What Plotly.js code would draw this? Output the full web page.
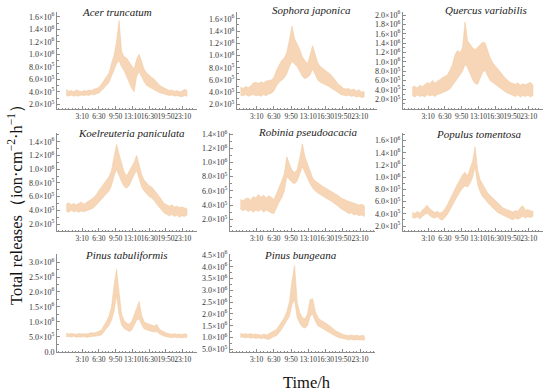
<!DOCTYPE html>
<html>
<head>
<meta charset="utf-8">
<script src="https://cdn.plot.ly/plotly-3.0.1.min.js"></script>
<style>html,body{margin:0;padding:0;background:#fff}#chart{width:550px;height:392px}</style>
</head>
<body>
<div id="chart"></div>
<script>
// time of day, minutes after midnight
const timeMin = [0,30,60,90,120,150,180,210,240,270,300,330,360,390,420,450,480,510,540,570,600,630,660,690,720,750,780,810,840,870,900,930,960,990,1020,1050,1080,1110,1140,1170,1200,1230,1260,1290,1320,1350,1380,1410,1440];
const xTickVals = [190,390,590,790,990,1190,1390];
const xTickText = ['3:10','6:30','9:50','13:10','16:30','19:50','23:10'];

const speciesNames = ['Acer truncatum','Sophora japonica','Quercus variabilis','Koelreuteria paniculata','Robinia pseudoacacia','Populus tomentosa','Pinus tabuliformis','Pinus bungeana'];

// values in units of 10^5 ion·cm^-2·h^-1 : lower and upper edge of band
const acerLow  = [3.4,3.3,3.5,3.3,3.4,3.3,3.5,3.4,3.5,3.4,3.6,3.5,3.7,3.8,4.2,4.6,5.0,5.5,6.5,7.6,8.5,9.0,8.0,7.4,6.5,5.5,4.6,4.0,6.5,7.2,6.5,5.6,5.0,4.8,4.5,4.3,4.1,3.9,3.7,3.6,3.5,3.4,3.5,3.3,3.4,3.3,3.2,3.4,3.3];
const acerHigh = [4.4,4.1,4.2,4.0,4.3,4.1,4.0,4.2,4.1,4.3,4.2,4.4,4.5,4.7,5.2,5.8,6.3,7.0,8.5,9.8,12.0,15.4,10.5,9.6,9.4,8.8,8.0,7.6,9.2,10.0,8.8,7.6,7.0,6.6,6.3,6.0,5.5,5.1,4.8,4.6,4.4,4.2,4.3,4.1,4.2,4.0,4.1,4.4,4.2];

const sophoraLow  = [3.5,3.4,3.6,3.3,3.5,3.6,3.4,3.5,3.3,3.6,3.4,3.7,3.8,4.2,5.0,5.6,6.0,6.3,7.0,8.2,9.0,8.6,8.2,7.4,6.6,6.2,6.4,6.8,7.8,7.0,6.0,5.6,5.4,5.2,5.0,4.8,4.5,4.2,3.9,3.6,3.5,3.4,3.5,3.3,3.4,3.2,3.3,3.1,3.2];
const sophoraHigh = [4.8,4.6,4.9,4.7,5.0,5.5,5.6,5.4,5.7,5.5,5.8,5.9,6.0,6.4,7.6,8.4,9.2,9.6,10.5,12.5,14.8,12.8,12.0,11.0,9.8,9.2,8.6,10.0,11.6,10.2,8.8,8.2,7.9,7.6,7.2,6.9,6.4,5.9,5.3,5.0,4.6,4.5,4.6,4.3,4.5,4.2,4.4,4.0,4.1];

const quercusLow  = [2.8,2.5,2.9,2.6,2.8,2.5,3.0,2.7,2.9,2.6,3.0,3.2,3.4,3.6,3.9,4.2,4.8,5.6,6.4,7.2,8.0,9.5,8.8,7.5,6.2,5.4,5.2,6.5,7.8,8.2,7.0,6.0,5.6,5.2,4.8,4.5,4.0,3.6,3.3,3.0,2.8,2.6,2.9,2.5,2.8,2.6,2.9,2.5,2.8];
const quercusHigh = [4.6,4.8,4.4,5.0,4.7,5.2,5.6,5.3,6.0,5.5,5.8,6.2,6.6,7.0,7.2,8.2,9.4,11.5,12.4,12.0,13.0,18.5,14.5,13.8,13.0,12.6,13.2,13.8,14.2,14.0,12.4,10.8,9.8,9.2,8.6,8.0,7.2,6.5,6.0,5.6,5.4,5.2,5.5,5.0,5.3,5.1,5.4,5.6,5.0];

const koelLow  = [3.9,3.7,4.0,3.8,3.9,3.7,3.9,3.8,4.0,4.1,4.2,4.4,4.8,5.3,5.6,6.0,6.4,6.8,7.6,9.0,10.0,9.2,8.2,7.5,7.2,7.6,8.4,9.2,9.8,8.6,7.4,6.8,6.4,6.0,5.8,5.4,4.9,4.4,4.0,3.6,3.4,3.2,3.4,3.1,3.3,3.0,3.2,3.1,3.3];
const koelHigh = [4.9,5.1,4.8,5.0,4.8,5.0,5.2,4.9,5.1,5.3,5.6,5.9,6.3,6.9,7.4,7.9,8.4,8.9,9.8,11.6,13.6,12.2,10.8,9.6,9.0,9.6,10.4,11.0,12.0,10.6,9.2,8.4,8.0,7.6,7.4,7.0,6.5,6.0,5.4,5.0,4.8,4.6,4.8,4.5,4.6,4.4,4.5,4.3,4.2];

const robiniaLow  = [3.5,3.2,3.4,3.1,3.3,3.0,3.3,3.1,3.4,3.0,3.3,3.1,2.9,2.8,3.6,4.4,5.0,6.0,8.0,7.6,7.2,7.0,7.4,8.4,9.4,8.6,7.8,7.0,6.4,6.0,5.7,5.5,5.2,5.0,4.8,4.6,4.4,4.1,3.8,3.5,3.2,3.0,2.8,2.9,2.6,2.7,2.5,2.6,2.4];
const robiniaHigh = [4.8,4.6,4.9,5.0,4.7,5.2,5.0,5.5,5.1,5.4,5.0,5.3,5.1,4.8,5.6,6.4,7.4,8.4,10.8,9.8,8.9,8.6,9.0,10.6,12.6,10.8,9.8,8.6,7.8,7.4,7.1,6.8,6.6,6.4,6.2,6.0,5.8,5.5,5.3,5.0,4.8,4.6,4.5,4.4,4.3,4.2,4.0,4.1,3.9];

const populusLow  = [3.4,3.3,3.5,3.2,3.6,3.9,4.1,3.7,3.4,3.3,3.5,3.1,3.0,3.4,3.9,4.6,5.4,6.2,7.0,7.6,8.2,8.6,8.4,9.0,10.0,11.8,8.8,7.6,6.8,6.4,5.8,5.4,5.0,4.6,4.2,3.9,3.7,3.5,3.4,3.2,3.0,3.3,3.1,3.4,3.6,3.3,3.5,3.4,3.6];
const populusHigh = [4.3,4.0,4.4,4.1,4.6,5.0,5.4,4.8,4.5,4.2,4.4,4.1,4.3,4.8,5.5,6.4,7.3,8.2,8.9,9.6,10.4,10.8,10.2,11.4,12.6,15.0,11.2,9.6,8.8,8.2,7.4,7.0,6.6,6.2,5.8,5.4,5.0,4.8,4.6,4.4,4.3,4.5,4.4,5.0,5.3,4.6,4.7,4.5,4.4];

const tabulLow  = [5.0,5.1,4.9,5.2,4.8,5.0,4.9,5.1,4.8,5.0,5.1,5.2,5.3,5.4,5.6,6.8,7.8,8.8,10.5,13.5,19.0,12.5,9.0,7.8,7.2,6.8,7.2,8.6,10.5,11.0,9.0,7.6,7.2,7.0,6.8,6.6,6.8,6.0,5.6,5.2,5.0,4.8,4.7,4.9,4.7,4.8,4.6,4.8,4.7];
const tabulHigh = [6.2,5.9,6.1,6.0,5.8,6.1,5.9,6.0,5.9,6.1,6.4,6.2,6.6,6.8,7.2,8.8,10.0,12.0,14.8,22.0,27.5,20.0,12.5,10.5,9.6,9.2,10.0,12.2,14.8,16.8,12.0,10.0,9.5,9.2,8.8,8.6,9.2,7.6,7.0,6.5,6.2,6.0,5.8,6.0,5.8,5.9,5.7,6.0,5.8];

const bungLow  = [10.0,10.2,9.8,10.1,9.7,10.0,9.6,9.9,9.5,9.8,9.4,9.2,9.8,10.4,10.8,12.0,13.5,15.0,17.0,19.0,24.0,26.0,18.5,16.0,14.5,14.0,15.0,19.0,20.0,17.0,15.0,14.2,13.6,13.0,12.4,11.8,11.0,10.5,10.0,9.6,9.4,9.2,9.0,9.3,8.9,9.1,8.8,9.0,8.9];
const bungHigh = [11.8,11.4,11.6,11.3,11.7,11.2,11.5,11.3,11.0,11.4,11.1,11.6,12.2,12.8,13.4,15.0,16.8,18.4,21.0,25.0,34.0,40.5,25.0,20.5,18.5,17.8,20.0,26.0,26.5,21.0,18.6,17.4,16.8,16.2,15.4,14.6,13.6,12.8,12.2,11.6,11.2,11.0,10.8,11.1,10.7,11.0,10.6,10.9,10.7];

// y tick values (units 10^5) and labels
const yTicks16 = [2,4,6,8,10,12,14,16];
const yLabels16 = ['2.0×10<sup>5</sup>','4.0×10<sup>5</sup>','6.0×10<sup>5</sup>','8.0×10<sup>5</sup>','1.0×10<sup>6</sup>','1.2×10<sup>6</sup>','1.4×10<sup>6</sup>','1.6×10<sup>6</sup>'];
const yTicks20 = [2,4,6,8,10,12,14,16,18,20];
const yLabels20 = ['2.0×10<sup>5</sup>','4.0×10<sup>5</sup>','6.0×10<sup>5</sup>','8.0×10<sup>5</sup>','1.0×10<sup>6</sup>','1.2×10<sup>6</sup>','1.4×10<sup>6</sup>','1.6×10<sup>6</sup>','1.8×10<sup>6</sup>','2.0×10<sup>6</sup>'];
const yTicks14 = [2,4,6,8,10,12,14];
const yLabels14 = ['2.0×10<sup>5</sup>','4.0×10<sup>5</sup>','6.0×10<sup>5</sup>','8.0×10<sup>5</sup>','1.0×10<sup>6</sup>','1.2×10<sup>6</sup>','1.4×10<sup>6</sup>'];
const yTicks30 = [0,5,10,15,20,25,30];
const yLabels30 = ['0.0','5.0×10<sup>5</sup>','1.0×10<sup>6</sup>','1.5×10<sup>6</sup>','2.0×10<sup>6</sup>','2.5×10<sup>6</sup>','3.0×10<sup>6</sup>'];
const yTicks45 = [5,10,15,20,25,30,35,40,45];
const yLabels45 = ['5.0×10<sup>5</sup>','1.0×10<sup>6</sup>','1.5×10<sup>6</sup>','2.0×10<sup>6</sup>','2.5×10<sup>6</sup>','3.0×10<sup>6</sup>','3.5×10<sup>6</sup>','4.0×10<sup>6</sup>','4.5×10<sup>6</sup>'];

const W = 550, H = 392;
const rowsPx = [[12,109],[133,231],[254,352]];

const panels = [
  {low:acerLow, high:acerHigh, yt:yTicks16, yl:yLabels16, ym:1, xd:[57,197], xr:[-110,1560], row:0, yr:[1.25,16.77], tx:117, ty:12},
  {low:sophoraLow, high:sophoraHigh, yt:yTicks16, yl:yLabels16, ym:1, xd:[237,377], xr:[-40,1590], row:0, yr:[1.23,17.13], tx:311, ty:10},
  {low:quercusLow, high:quercusHigh, yt:yTicks20, yl:yLabels20, ym:1, xd:[403,543], xr:[-110,1560], row:0, yr:[-0.07,20.64], tx:486, ty:10},
  {low:koelLow, high:koelHigh, yt:yTicks14, yl:yLabels14, ym:1, xd:[57,197], xr:[-110,1560], row:1, yr:[0.98,15.28], tx:131, ty:133},
  {low:robiniaLow, high:robiniaHigh, yt:yTicks14, yl:yLabels14, ym:1, xd:[230,375], xr:[-120,1564], row:1, yr:[0.35,14.15], tx:308, ty:132},
  {low:populusLow, high:populusHigh, yt:yTicks16, yl:yLabels16, ym:1, xd:[403,543], xr:[-110,1560], row:1, yr:[1.18,17.25], tx:479, ty:134},
  {low:tabulLow, high:tabulHigh, yt:yTicks30, yl:yLabels30, ym:2.5, xd:[57,197], xr:[-110,1560], row:2, yr:[-0.1,32.7], tx:126, ty:255},
  {low:bungLow, high:bungHigh, yt:yTicks45, yl:yLabels45, ym:2.5, xd:[230,375], xr:[-120,1564], row:2, yr:[3.86,45.4], tx:300, ty:255}
];

const fillCol = 'rgba(246,214,182,1)';
const lineCol = 'rgba(242,203,163,1)';
const axisCol = '#8c8c8c';
const xTickFont = {family:'Liberation Serif, Times New Roman, serif', size:7.5, color:'#333'};
const yTickFont = {family:'Liberation Serif, Times New Roman, serif', size:8, color:'#333'};

const data = [];
const layout = {
  width:W, height:H, margin:{l:0,r:0,t:0,b:0},
  paper_bgcolor:'#fff', plot_bgcolor:'rgba(0,0,0,0)', showlegend:false,
  annotations:[]
};

panels.forEach((p,i)=>{
  const n = i+1;
  const xs = timeMin.concat(timeMin.slice().reverse());
  const ys = p.high.concat(p.low.slice().reverse());
  data.push({x:xs, y:ys, type:'scatter', mode:'lines', fill:'toself', fillcolor:fillCol,
    line:{color:lineCol, width:0.6}, xaxis:'x'+n, yaxis:'y'+n, hoverinfo:'skip'});
  const r = rowsPx[p.row];
  layout['xaxis'+n] = {
    domain:[p.xd[0]/W, p.xd[1]/W], range:p.xr, anchor:'y'+n,
    showline:true, linecolor:axisCol, linewidth:1, showgrid:false, zeroline:false,
    tickmode:'array', tickvals:xTickVals, ticktext:xTickText, ticks:'inside', ticklen:3, tickcolor:axisCol,
    tickangle:0, tickfont:xTickFont, fixedrange:true,
    minor:{ticks:'inside', ticklen:1.5, tickcolor:axisCol, tick0:190, dtick:40, showgrid:false}
  };
  layout['yaxis'+n] = {
    domain:[1-r[1]/H, 1-r[0]/H], range:p.yr, anchor:'x'+n,
    showline:true, linecolor:axisCol, linewidth:1, showgrid:false, zeroline:false,
    tickmode:'array', tickvals:p.yt, ticktext:p.yl, ticks:'inside', ticklen:3, tickcolor:axisCol,
    tickfont:yTickFont, fixedrange:true,
    minor:{ticks:'inside', ticklen:1.5, tickcolor:axisCol, tick0:0, dtick:p.ym, showgrid:false}
  };
  layout.annotations.push({text:speciesNames[i], xref:'paper', yref:'paper', x:p.tx/W, y:1-p.ty/H,
    xanchor:'center', yanchor:'middle', showarrow:false,
    font:{family:'Liberation Serif, Times New Roman, serif', size:11, color:'#222', style:'italic', weight:'normal'}});
});

layout.annotations.push({text:'Total releases（ion·cm<sup>−2</sup>·h<sup>−1</sup>）', xref:'paper', yref:'paper',
  x:15/W, y:1-201/H, xanchor:'center', yanchor:'middle', textangle:-90, showarrow:false,
  font:{family:'Liberation Serif, Times New Roman, serif', size:16.5, color:'#111', weight:'normal'}});
layout.annotations.push({text:'Time/h', xref:'paper', yref:'paper',
  x:307/W, y:1-382/H, xanchor:'center', yanchor:'middle', showarrow:false,
  font:{family:'Liberation Serif, Times New Roman, serif', size:16.5, color:'#111', weight:'normal'}});

Plotly.newPlot('chart', data, layout, {staticPlot:true, displayModeBar:false});
</script>
</body>
</html>
